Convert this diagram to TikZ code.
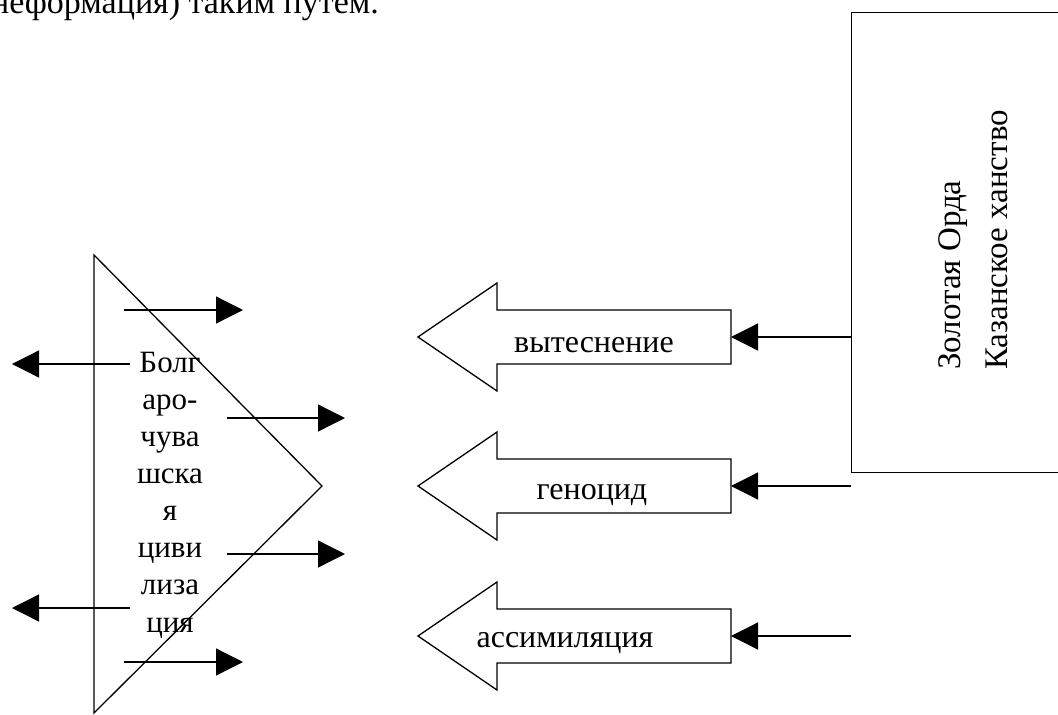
\documentclass[tikz,border=0pt]{standalone}
\usepackage{fontspec}
\setmainfont{Liberation Serif}
\usetikzlibrary{arrows.meta}
\begin{document}
\begin{tikzpicture}[x=1pt,y=-1pt,
  ln/.style={line width=1.3pt},
  thinarrow/.style={line width=1.3pt,-{Triangle[length=27pt,width=27pt]}},
  blockarrow/.style={line width=1.3pt,line join=miter},
  lbl/.style={font=\fontsize{32}{38}\selectfont,inner sep=0pt,anchor=base},
]
\useasboundingbox (0,0) rectangle (1058,715);
% top cut-off text
\node[anchor=base west,inner sep=0pt,font=\fontsize{34}{40}\selectfont] (toptext) at (-9,13) {неформация) таким путем.};
% triangle
\draw[ln,line join=miter] (94,255) coordinate (tA) -- (322,486) coordinate (tB) -- (94,713) coordinate (tC) -- cycle;
\node[align=center,font=\fontsize{31}{37.1}\selectfont,inner sep=0pt,anchor=base] (civ) at (170,632)
  {Болг\\аро-\\чува\\шска\\я\\циви\\лиза\\ция};
% thin arrows around the triangle
\coordinate (a1s) at (124,310); \coordinate (a1e) at (243,310);
\coordinate (a2s) at (130,364); \coordinate (a2e) at (12,364);
\coordinate (a3s) at (227,418); \coordinate (a3e) at (345,418);
\coordinate (a4s) at (227,554); \coordinate (a4e) at (345,554);
\coordinate (a5s) at (130,608); \coordinate (a5e) at (12,608);
\coordinate (a6s) at (124,662); \coordinate (a6e) at (243,662);
\foreach \i in {1,...,6} \draw[thinarrow] (a\i s) -- (a\i e);
% box
\node[draw,ln,anchor=north west,minimum width=260pt,minimum height=460pt,inner sep=0pt] (horde) at (851,12) {};
\node[rotate=90,align=left,anchor=north west,inner sep=0pt,font=\fontsize{33}{47}\selectfont] (hordetext) at (938,370)
  {Золотая Орда\\Казанское ханство};
% block arrows
\foreach \c/\n in {337/1,486/2,636/3}{
  \draw[blockarrow] (731,\c-27) -- (497,\c-27) -- (497,\c-54) -- (418,\c) -- (497,\c+54) -- (497,\c+27) -- (731,\c+27) -- cycle;
  \coordinate (b\n) at (731,\c);
}
\node[lbl] (t1) at (594,352) {вытеснение};
\node[lbl] (t2) at (592,499) {геноцид};
\node[lbl] (t3) at (565,647) {ассимиляция};
% connectors from the box
\draw[thinarrow] (horde.west |- b1) -- (b1);
\coordinate (c2) at (851,486); \coordinate (c3) at (851,636);
\draw[thinarrow] (c2) -- (b2);
\draw[thinarrow] (c3) -- (b3);
\end{tikzpicture}
\end{document}
